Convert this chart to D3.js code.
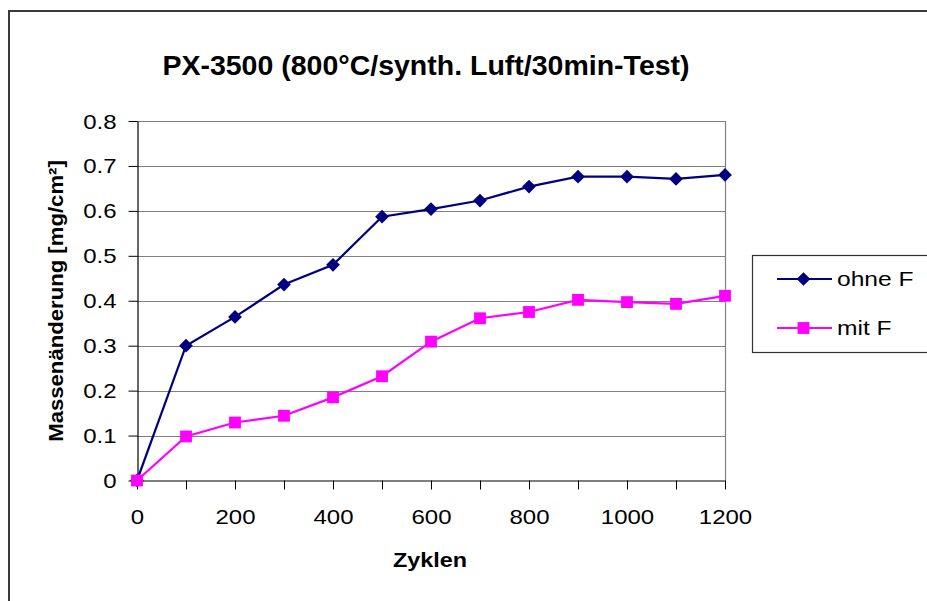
<!DOCTYPE html>
<html>
<head>
<meta charset="utf-8">
<script src="https://cdn.jsdelivr.net/npm/d3@7/dist/d3.min.js"></script>
<style>
  html, body { margin: 0; padding: 0; background: #fff; }
  svg { display: block; }
  text { font-family: Arial, "Liberation Sans", sans-serif; fill: #000; }
</style>
</head>
<body>
<svg id="chart" width="927" height="601"></svg>
<script>
// Cycle counts (x) and mass change in mg/cm² for both test series
const cycles = [0, 100, 200, 300, 400, 500, 600, 700, 800, 900, 1000, 1100, 1200];
const ohneF  = [0, 0.300, 0.364, 0.436, 0.480, 0.587, 0.604, 0.623, 0.654, 0.676, 0.676, 0.671, 0.680];
const mitF   = [0, 0.098, 0.129, 0.144, 0.185, 0.232, 0.309, 0.361, 0.375, 0.402, 0.397, 0.393, 0.411];
const seriesNames = ["ohne F", "mit F"];
const seriesColors = ["#000080", "#FF00FF"];
const xTickValues = [0, 200, 400, 600, 800, 1000, 1200];
const yTickValues = [0, 0.1, 0.2, 0.3, 0.4, 0.5, 0.6, 0.7, 0.8];

const titleText = "PX-3500 (800°C/synth. Luft/30min-Test)";
const xTitle = "Zyklen";
const yTitle = "Massenänderung [mg/cm²]";

const svg = d3.select("#chart");
const SX = 1.2; // glyph widening used for axis and legend text

// outer chart frame
svg.append("rect")
  .attr("x", 9).attr("y", 11)
  .attr("width", 940).attr("height", 620)
  .attr("fill", "#fff")
  .attr("stroke", "#3a3a3a").attr("stroke-width", 2);

const plot = { left: 137, right: 725, top: 121, bottom: 480.5 };

const x = d3.scaleLinear().domain([0, 1200]).range([plot.left, plot.right]);
const y = d3.scaleLinear().domain([0, 0.8]).range([plot.bottom, plot.top]);

// horizontal gridlines
svg.append("g")
  .selectAll("line")
  .data(yTickValues.filter(d => d > 0))
  .join("line")
  .attr("x1", plot.left).attr("x2", plot.right)
  .attr("y1", d => Math.round(y(d)) + 0.5).attr("y2", d => Math.round(y(d)) + 0.5)
  .attr("stroke", "#808080").attr("stroke-width", 1.2);

// right edge of the plot area
svg.append("line")
  .attr("x1", plot.right + 0.5).attr("x2", plot.right + 0.5)
  .attr("y1", plot.top).attr("y2", plot.bottom)
  .attr("stroke", "#808080").attr("stroke-width", 1.2);

// y axis
const yAxis = svg.append("g")
  .attr("transform", `translate(${plot.left + 0.5},0)`)
  .call(d3.axisLeft(y).tickValues(yTickValues).tickSize(9).tickSizeOuter(0)
    .tickFormat(d => d === 0 ? "0" : d3.format(".1f")(d)));
yAxis.select(".domain").attr("stroke", "#000").attr("stroke-width", 1.2);
yAxis.selectAll(".tick line").attr("stroke", "#000").attr("stroke-width", 1);
yAxis.selectAll(".tick text")
  .attr("font-size", 20).attr("font-family", "Arial, 'Liberation Sans', sans-serif")
  .attr("x", -21 / SX).attr("dy", "0.35em")
  .attr("transform", `scale(${SX},1)`);

// x axis (ticks every 100, labels every 200)
const xAxis = svg.append("g")
  .attr("transform", `translate(0,${plot.bottom})`)
  .call(d3.axisBottom(x).tickValues(cycles).tickSize(9).tickSizeOuter(0)
    .tickFormat(d => xTickValues.includes(d) ? String(d) : ""));
xAxis.select(".domain").attr("stroke", "#000").attr("stroke-width", 1.2);
xAxis.selectAll(".tick line").attr("stroke", "#000").attr("stroke-width", 1);
xAxis.selectAll(".tick text")
  .attr("font-size", 20).attr("font-family", "Arial, 'Liberation Sans', sans-serif")
  .attr("y", 37).attr("dy", "0.35em")
  .attr("transform", `scale(${SX},1)`);

// series lines and markers
const series = [ohneF, mitF];
const line = d3.line().x((d, i) => x(cycles[i])).y(d => y(d));

series.forEach((vals, si) => {
  svg.append("path")
    .datum(vals)
    .attr("d", line)
    .attr("fill", "none")
    .attr("stroke", seriesColors[si])
    .attr("stroke-width", 2.2);
});

const diamond = d3.symbol().type(d3.symbolDiamond2).size(120);
const square = d3.symbol().type(d3.symbolSquare).size(140);
const symbols = [diamond, square];

series.forEach((vals, si) => {
  svg.append("g")
    .selectAll("path")
    .data(vals)
    .join("path")
    .attr("transform", (d, i) => `translate(${x(cycles[i])},${y(d)})`)
    .attr("d", symbols[si]())
    .attr("fill", seriesColors[si]);
});

// title
svg.append("text")
  .attr("x", 426).attr("y", 75)
  .attr("text-anchor", "middle")
  .attr("font-size", 28.5).attr("font-weight", "bold")
  .text(titleText);

// x axis title
svg.append("text")
  .attr("transform", `translate(430,567) scale(1.14,1)`)
  .attr("text-anchor", "middle")
  .attr("font-size", 20.5).attr("font-weight", "bold")
  .text(xTitle);

// y axis title
svg.append("text")
  .attr("transform", `translate(63,301) rotate(-90) scale(1.08,1)`)
  .attr("text-anchor", "middle")
  .attr("font-size", 20.5).attr("font-weight", "bold")
  .text(yTitle);

// legend
const legend = svg.append("g");
legend.append("rect")
  .attr("x", 752.5).attr("y", 255.5)
  .attr("width", 190).attr("height", 97)
  .attr("fill", "#fff")
  .attr("stroke", "#333").attr("stroke-width", 1.2);

const rowY = [279, 328];
seriesNames.forEach((name, si) => {
  legend.append("line")
    .attr("x1", 777).attr("x2", 832)
    .attr("y1", rowY[si]).attr("y2", rowY[si])
    .attr("stroke", seriesColors[si]).attr("stroke-width", 2.2);
  legend.append("path")
    .attr("transform", `translate(803.5,${rowY[si]})`)
    .attr("d", symbols[si]())
    .attr("fill", seriesColors[si]);
  legend.append("text")
    .attr("transform", `translate(837,${rowY[si]}) scale(${SX},1)`)
    .attr("dy", "0.35em")
    .attr("font-size", 20.5)
    .text(name);
});
</script>
</body>
</html>
